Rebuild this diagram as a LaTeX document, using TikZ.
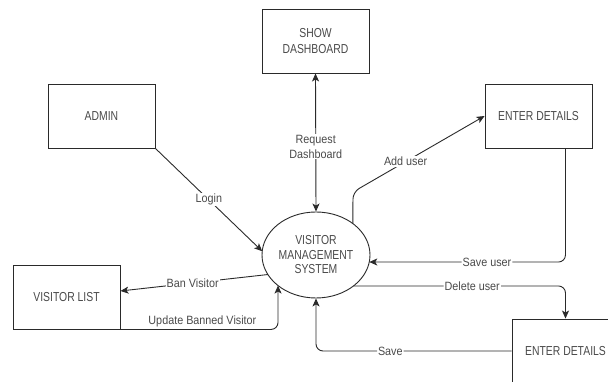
\documentclass[tikz,border=0pt]{standalone}
\usepackage{fontspec}
\setmainfont{Liberation Sans}
\newfontfamily\boxfont{Liberation Sans}[FakeStretch=0.8]
\newfontfamily\lblfont{Liberation Sans}[FakeStretch=0.9]
\usetikzlibrary{arrows.meta,calc,shapes.geometric}
\definecolor{linec}{HTML}{2A2A2A}
\definecolor{textc}{HTML}{4A4A4A}
\tikzset{
  entity/.style={draw=linec, line width=0.9pt, fill=white, minimum width=107pt, minimum height=64pt, inner sep=0pt,
    font=\boxfont\fontsize{13}{16.7}\selectfont, text=textc, align=center},
  proc/.style={ellipse, draw=linec, line width=0.9pt, fill=white, minimum width=108pt, minimum height=86pt, inner sep=0pt,
    font=\boxfont\fontsize{13}{14.5}\selectfont, text=textc, align=center},
  flow/.style={draw=linec, line width=0.9pt, -{Stealth[length=8pt,width=7pt,inset=2pt]}},
  flowboth/.style={draw=linec, line width=0.9pt, {Stealth[length=8pt,width=7pt,inset=2pt]}-{Stealth[length=8pt,width=7pt,inset=2pt]}},
  lbl/.style={font=\lblfont\fontsize{12}{15}\selectfont, text=textc, fill=white, inner sep=1pt, align=center},
  lblfree/.style={font=\lblfont\fontsize{12}{15}\selectfont, text=textc, inner sep=1pt, align=center},
}
\begin{document}
\begin{tikzpicture}[x=1pt,y=-1pt]
\useasboundingbox (0,0) rectangle (608,382);
\clip (0,0) rectangle (608,382);
\fill[white] (0,0) rectangle (608,382);

\node[entity] (dash) at (315.5,41) {SHOW\\DASHBOARD};
\node[entity] (admin) at (101.5,116) {ADMIN};
\node[entity] (ed1) at (538.5,116) {ENTER DETAILS};
\node[entity] (vlist) at (66.5,297) {VISITOR LIST};
\node[entity] (ed2) at (565.5,351) {ENTER DETAILS};
\node[proc] (vms) at (316,255) {VISITOR\\MANAGEMENT\\SYSTEM};

\coordinate (loginend) at ($(vms.center)+(175:54pt and 43pt)$);
\coordinate (addstart) at ($(vms.center)+(47:54pt and 43pt)$);
\coordinate (addbend) at (353,192);
\coordinate (saveuend) at ($(vms.center)+(-9.4:54pt and 43pt)$);
\coordinate (saveustart) at ($(ed1.south)!0.5!(ed1.south east)$);
\coordinate (delstart) at ($(vms.center)+(-46.1:54pt and 43pt)$);
\coordinate (banstart) at ($(vms.center)+(207:54pt and 43pt)$);
\coordinate (banend) at ($(vlist.east)+(0pt,6pt)$);
\coordinate (updend) at ($(vms.center)+(225.3:54pt and 43pt)$);

\draw[flow] (admin.south east) -- node[lbl, pos=0.5] {Login} (loginend);
\draw[flowboth] (dash.south) -- node[lbl, pos=0.53] {Request\\Dashboard} (vms.north);
\draw[flow, rounded corners=7pt] (addstart) -- (addbend) -- node[lbl, pos=0.4] {Add user} (ed1.west);
\draw[flow, rounded corners=7pt] (saveustart) |- node[lbl, pos=0.7] {Save user} (saveuend);
\draw[flow, rounded corners=7pt] (delstart) -| node[lbl, pos=0.28] {Delete user} (ed2.north);
\draw[flow, rounded corners=7pt] (ed2.west) -| node[lbl, pos=0.31] {Save} (vms.south);
\draw[flow] (banstart) -- node[lbl, pos=0.51] {Ban Visitor} (banend);
\draw[flow, rounded corners=7pt] (vlist.south east) -| node[lblfree, pos=0.26, above=1pt] {Update Banned Visitor} (updend);
\end{tikzpicture}
\end{document}
